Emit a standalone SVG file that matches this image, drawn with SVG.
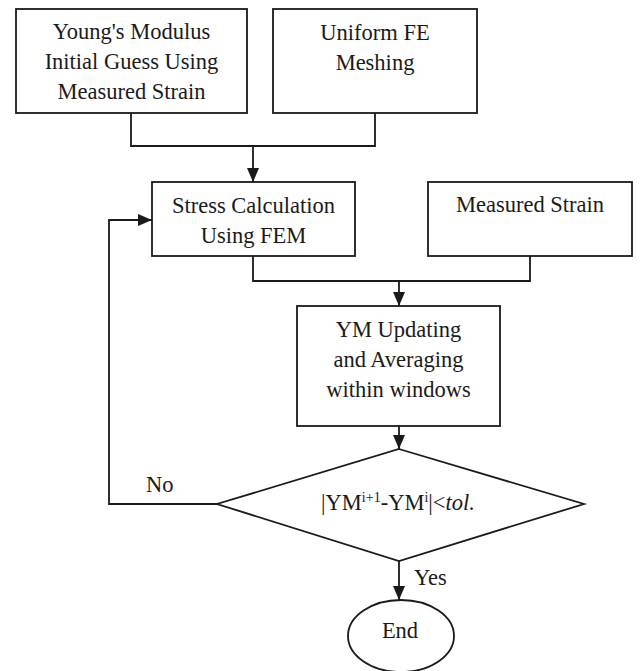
<svg xmlns="http://www.w3.org/2000/svg" width="641" height="671" viewBox="0 0 641 671">
<style>
.box{fill:#fff;stroke:#1a1a1a;stroke-width:1.8}
.ln{fill:none;stroke:#1a1a1a;stroke-width:1.8}
.t{font-family:"Liberation Serif","Times New Roman",serif;font-size:22.5px;fill:#1a1a1a;text-anchor:middle}
.l{font-family:"Liberation Serif","Times New Roman",serif;font-size:22.5px;fill:#1a1a1a}
</style>
<defs>
<marker id="ah" viewBox="0 0 14 12" refX="14" refY="6" markerWidth="14" markerHeight="12" markerUnits="userSpaceOnUse" orient="auto">
<path d="M0,0 L14,6 L0,12 Z" fill="#1a1a1a"/>
</marker>
</defs>
<rect width="641" height="671" fill="#fff"/>
<g id="connectors">
<path class="ln" d="M131,113 V146 H375 V113"/>
<path class="ln" d="M253,146 V182" marker-end="url(#ah)"/>
<path class="ln" d="M253,256 V281 H530 V256"/>
<path class="ln" d="M399,281 V306" marker-end="url(#ah)"/>
<path class="ln" d="M399,426 V449" marker-end="url(#ah)"/>
<path class="ln" d="M217,504 H109 V220 H152" marker-end="url(#ah)"/>
<path class="ln" d="M399,561 V600" marker-end="url(#ah)"/>
<text class="l" x="146" y="492">No</text>
<text class="l" x="414" y="585">Yes</text>
</g>
<g id="n1">
<rect class="box" x="16" y="9" width="231" height="104"/>
<text class="t" x="131.5" y="39">Young's Modulus</text>
<text class="t" x="131.5" y="69">Initial Guess Using</text>
<text class="t" x="131.5" y="99">Measured Strain</text>
</g>
<g id="n2">
<rect class="box" x="273" y="9" width="204" height="104"/>
<text class="t" x="375" y="40">Uniform FE</text>
<text class="t" x="375" y="70">Meshing</text>
</g>
<g id="n3">
<rect class="box" x="152" y="182" width="203" height="74"/>
<text class="t" x="253.5" y="213">Stress Calculation</text>
<text class="t" x="253.5" y="243">Using FEM</text>
</g>
<g id="n4">
<rect class="box" x="428" y="182" width="204" height="74"/>
<text class="t" x="530" y="212">Measured Strain</text>
</g>
<g id="n5">
<rect class="box" x="297" y="306" width="203" height="120"/>
<text class="t" x="398.5" y="337">YM Updating</text>
<text class="t" x="398.5" y="367">and Averaging</text>
<text class="t" x="398.5" y="397">within windows</text>
</g>
<g id="n6">
<polygon class="box" points="399,449 584,504 399,561 217,504"/>
<text class="t" x="398" y="510">|YM<tspan font-size="14" dy="-8">i+1</tspan><tspan dy="8">-YM</tspan><tspan font-size="14" dy="-8">i</tspan><tspan dy="8">|&lt;</tspan><tspan font-style="italic">tol.</tspan></text>
</g>
<g id="n7">
<ellipse class="box" cx="401" cy="636" rx="53" ry="36"/>
<text class="t" x="400" y="638">End</text>
</g>
</svg>
